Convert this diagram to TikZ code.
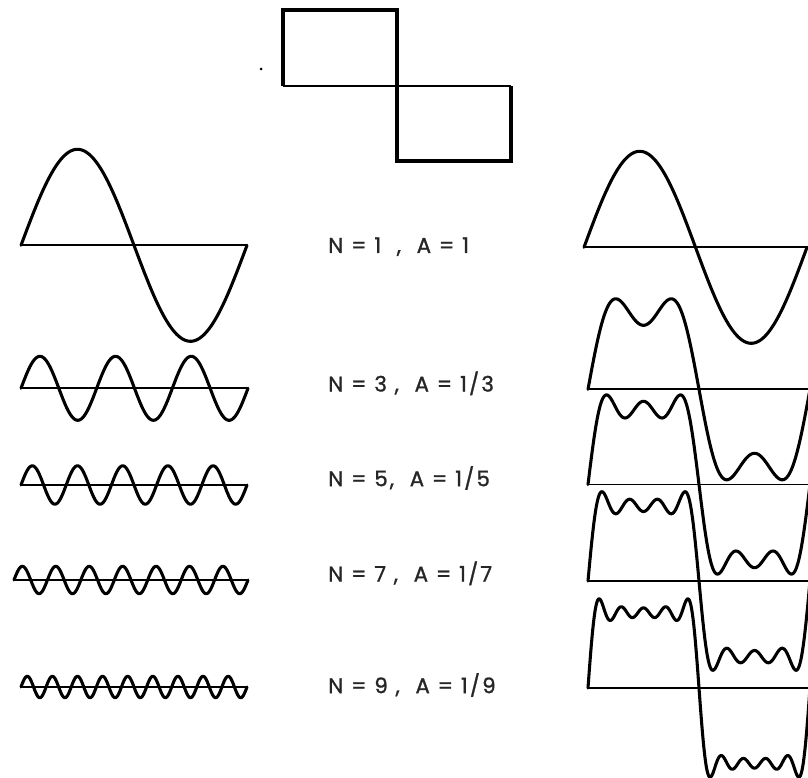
\documentclass[tikz,border=0pt]{standalone}
\usepackage{fontspec}
\setmainfont{Poppins}
\newfontfamily\labfont[LetterSpace=10,FakeBold=1.2]{Poppins}
\begin{document}
\begin{tikzpicture}[x=0.75pt,y=-0.75pt,
  wave/.style={line width=2.3pt,line join=round,line cap=round},
  axis/.style={line width=1.4pt},
  sqline/.style={line width=2.3pt,line join=miter},
  lab/.style={anchor=west,inner sep=0pt,font=\labfont\fontsize{16pt}{18pt}\selectfont,text=black!85},
  declare function={
    sa(\t)=sin(\t);
    sb(\t)=sin(\t)+sin(3*\t)/3;
    sc(\t)=sin(\t)+sin(3*\t)/3+sin(5*\t)/5;
    sd(\t)=sin(\t)+sin(3*\t)/3+sin(5*\t)/5+sin(7*\t)/7;
    se(\t)=sin(\t)+sin(3*\t)/3+sin(5*\t)/5+sin(7*\t)/7+sin(9*\t)/9;
  }]
\useasboundingbox (0,0) rectangle (808,778);
\clip (0,0) rectangle (808,778);

% square wave
\draw[sqline] (283,86) -- (283,10) -- (397,10) -- (397,161) -- (511,161) -- (511,86);
\draw[axis] (283,86) -- (511,86);
\fill (261,69) circle (1.5);

% left column: harmonics
\draw[axis] (21,245.3) -- (247,245.3);
\draw[wave] plot[domain=21:247,samples=120,smooth] (\x,{245.3-96*sin((\x-21)/226*360)});
\draw[axis] (21,388.3) -- (248,388.3);
\draw[wave] plot[domain=21:248,samples=200,smooth] (\x,{388.3-32*sin((\x-21)/227*1080)});
\draw[axis] (21,485) -- (247,485);
\draw[wave] plot[domain=21:247,samples=250,smooth] (\x,{485-19.2*sin((\x-21)/226*1800)});
\draw[axis] (14,580) -- (248,580);
\draw[wave] plot[domain=14:248,samples=300,smooth] (\x,{580-13.7*sin((\x-14)/234*2520)});
\draw[axis] (21,687) -- (247,687);
\draw[wave] plot[domain=21:247,samples=350,smooth] (\x,{687-10.7*sin((\x-21)/226*3240)});

% labels
\node[lab] (l1) at (328,246.7) {N = 1\ \ ,\ \ A = 1};
\node[lab] (l3) at (328,383.3) {N = 3\ ,\ \ A = 1/3};
\node[lab] (l5) at (328,478) {N = 5,\ \ A = 1/5};
\node[lab] (l7) at (328,573.3) {N = 7\ ,\ \ A = 1/7};
\node[lab] (l9) at (328,685) {N = 9\ ,\ \ A = 1/9};

% right column: partial sums
\draw[axis] (584,247.3) -- (808,247.3);
\draw[wave] plot[domain=584:807,samples=150,smooth] (\x,{247.3-96*sa((\x-584)/223*360)});
\draw[axis] (588,389.3) -- (808,389.3);
\draw[wave] plot[domain=588:810,samples=250,smooth] (\x,{389.3-96*sb((\x-588)/222*360)});
\draw[axis] (588,484.5) -- (808,484.5);
\draw[wave] plot[domain=588:810,samples=300,smooth] (\x,{484.5-96*sc((\x-588)/222*360)});
\draw[axis] (588,581) -- (808,581);
\draw[wave] plot[domain=588:810,samples=350,smooth] (\x,{581-96*sd((\x-588)/222*360)});
\draw[axis] (588,688) -- (808,688);
\draw[wave] plot[domain=588:810,samples=400,smooth] (\x,{688-96*se((\x-588)/222*360)});
\end{tikzpicture}
\end{document}
